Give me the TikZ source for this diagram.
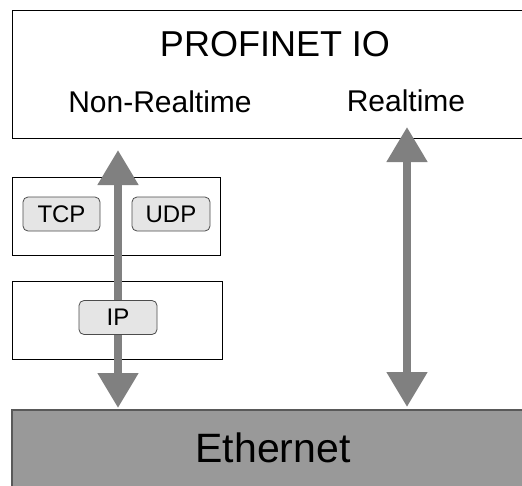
\documentclass[tikz,border=0pt]{standalone}
\usepackage{fontspec}
\setmainfont{Liberation Sans}
\usetikzlibrary{arrows.meta}
\begin{document}
\begin{tikzpicture}[x=1pt,y=-1pt,
layer/.style={draw=black,line width=0.8pt,fill=white,inner sep=0pt},
proto/.style={draw=black!70,fill=black!10,line width=0.8pt,rounded corners=5pt,inner sep=0pt,minimum height=34pt,font=\fontsize{24}{24}\selectfont},
label/.style={inner sep=0pt},
flow/.style={draw=black!50,line width=8pt,{Triangle[width=39pt,length=35pt]}-{Triangle[width=39pt,length=35pt]}}]
\useasboundingbox (0,0) rectangle (522,485);
\clip (0,0) rectangle (522,485);
\node [layer,minimum width=528pt,minimum height=128pt] (pnio) at (276,74) {};
\node [label,font=\fontsize{36}{36}\selectfont] (pntitle) at (275,44) {PROFINET IO};
\node [label,font=\fontsize{30}{30}\selectfont] (nrt) at (160,102) {Non-Realtime};
\node [label,font=\fontsize{30}{30}\selectfont] (rt) at (406,101) {Realtime};
\node [layer,minimum width=208pt,minimum height=78pt] (transport) at (116,216) {};
\node [layer,minimum width=210pt,minimum height=78pt] (network) at (117,320) {};
\node [draw=black!65,fill=black!40,line width=1.5pt,minimum width=528pt,minimum height=90pt,inner sep=0pt] (eth) at (276,455) {};
\node [label,font=\fontsize{41}{41}\selectfont] (ethtext) at (273,448) {Ethernet};
\coordinate (nrtop) at (118,150);
\coordinate (nrbot) at (118,408);
\coordinate (rttop) at (407,127);
\coordinate (rtbot) at (407,407);
\draw [flow] (nrtop) -- (nrbot);
\draw [flow] (rttop) -- (rtbot);
\node [proto,minimum width=77pt] (tcp) at (61.5,214) {TCP};
\node [proto,minimum width=78pt] (udp) at (171,214) {UDP};
\node [proto,minimum width=78pt] (ip) at (118,317.5) {IP};
\end{tikzpicture}
\end{document}
